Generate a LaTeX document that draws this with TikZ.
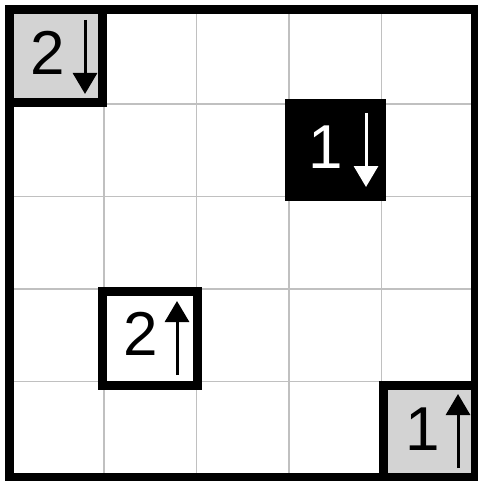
\documentclass[tikz,border=0pt]{standalone}
\usepackage{fontspec}
\setmainfont{Liberation Sans}
\usetikzlibrary{arrows.meta}
\definecolor{cellgray}{RGB}{211,211,211}
\definecolor{gridgray}{RGB}{192,192,192}
\begin{document}
\begin{tikzpicture}[x=1pt,y=-1pt,
  gridline/.style={draw=gridgray,line width=1.3pt},
  cellbox/.style={draw=black,line width=9pt,rectangle,inner sep=0pt,minimum width=92.5pt,minimum height=92.5pt},
  digit/.style={anchor=base,inner sep=0pt,font=\fontsize{62}{62}\selectfont},
  dirarrow/.style={line width=3pt,-{Triangle[width=24pt,length=21pt]}}]
\useasboundingbox (0,0) rectangle (478,481);
% grid
\foreach \v in {104,196.5,289,381.5}{
  \draw[gridline] (\v,10) -- (\v,477);
  \draw[gridline] (9.5,\v) -- (475,\v);
}
% highlighted cells
\node[cellbox,fill=cellgray,minimum width=92.5pt,minimum height=93pt] (ca) at (55.75,56.5) {};
\node[cellbox,fill=black] (cb) at (335.25,150.25) {};
\node[cellbox,fill=white,minimum width=95pt,minimum height=94pt] (cc) at (149.5,338) {};
\node[cellbox,fill=cellgray,minimum width=92pt,minimum height=92pt] (cd) at (429,431) {};
% outer border
\draw[line width=9pt] (9.5,10) rectangle (475,477);
% digits
\node[digit] (da) at (47.5,75) {2};
\node[digit,text=white] (db) at (326,168) {1};
\node[digit] (dc) at (140.5,355) {2};
\node[digit] (dd) at (423,450) {1};
% arrows
\coordinate (a1) at (85,20); \coordinate (a2) at (85,94);
\coordinate (b1) at (366,113); \coordinate (b2) at (366,187);
\coordinate (c1) at (177,375); \coordinate (c2) at (177,301);
\coordinate (d1) at (458,468); \coordinate (d2) at (458,394);
\draw[dirarrow] (a1) -- (a2);
\draw[dirarrow,white] (b1) -- (b2);
\draw[dirarrow] (c1) -- (c2);
\draw[dirarrow] (d1) -- (d2);
\end{tikzpicture}
\end{document}
